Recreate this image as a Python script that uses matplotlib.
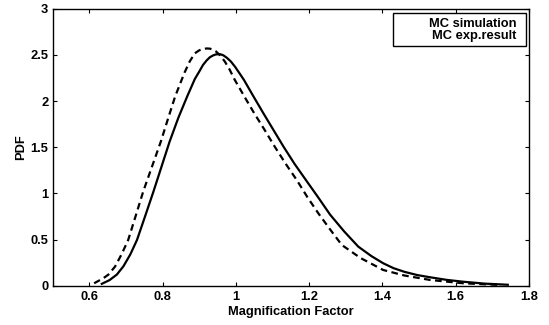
import matplotlib
matplotlib.use("Agg")
import matplotlib.pyplot as plt
from matplotlib.patches import Rectangle

plt.rcParams["font.family"] = ["Liberation Sans", "DejaVu Sans"]
plt.rcParams["font.weight"] = "bold"
plt.rcParams["font.size"] = 9.3

# curves
sim_x = [0.634, 0.655, 0.675, 0.693, 0.712, 0.730, 0.752, 0.775, 0.797, 0.819,
         0.843, 0.867, 0.888, 0.900, 0.910, 0.920, 0.929, 0.938, 0.945, 0.952,
         0.958, 0.966, 0.975, 0.986, 0.998, 1.010, 1.022, 1.048, 1.075, 1.102,
         1.130, 1.160, 1.191, 1.224, 1.257, 1.295, 1.334, 1.370, 1.402, 1.430,
         1.460, 1.495, 1.530, 1.575, 1.620, 1.680, 1.742]
sim_y = [0.02, 0.06, 0.12, 0.21, 0.34, 0.495, 0.75, 1.02, 1.29, 1.56,
         1.82, 2.05, 2.24, 2.32, 2.39, 2.44, 2.475, 2.495, 2.505, 2.508,
         2.507, 2.495, 2.47, 2.43, 2.37, 2.30, 2.229, 2.05, 1.868, 1.69,
         1.506, 1.32, 1.145, 0.96, 0.77, 0.59, 0.423, 0.32, 0.243, 0.19,
         0.15, 0.115, 0.091, 0.063, 0.043, 0.022, 0.01]

exp_x = [0.613, 0.638, 0.652, 0.670, 0.688, 0.706, 0.726, 0.747, 0.771, 0.795,
         0.814, 0.834, 0.848, 0.860, 0.874, 0.888, 0.900, 0.910, 0.920, 0.929,
         0.938, 0.945, 0.957, 0.970, 0.983, 0.997, 1.010, 1.023, 1.050, 1.078,
         1.106, 1.136, 1.166, 1.195, 1.225, 1.257, 1.289, 1.340, 1.402, 1.460,
         1.530, 1.620, 1.720]
exp_y = [0.026, 0.08, 0.12, 0.206, 0.34, 0.495, 0.75, 1.02, 1.29, 1.56,
         1.80, 2.048, 2.19, 2.31, 2.43, 2.518, 2.55, 2.565, 2.57, 2.568,
         2.557, 2.54, 2.495, 2.427, 2.34, 2.229, 2.14, 2.05, 1.868, 1.69,
         1.506, 1.32, 1.145, 0.96, 0.784, 0.61, 0.441, 0.30, 0.170, 0.11,
         0.062, 0.026, 0.008]

labels = ["MC simulation", "MC exp.result"]
x_ticks = [0.6, 0.8, 1.0, 1.2, 1.4, 1.6, 1.8]
x_ticklabels = ["0.6", "0.8", "1", "1.2", "1.4", "1.6", "1.8"]
y_ticks = [0, 0.5, 1, 1.5, 2, 2.5, 3]
y_ticklabels = ["0", "0.5", "1", "1.5", "2", "2.5", "3"]

fig = plt.figure(figsize=(5.49, 3.25), dpi=100)
ax = fig.add_axes([0.096, 0.121, 0.8676, 0.852])

ax.plot(sim_x, sim_y, color="black", lw=1.6, solid_joinstyle="round")
ax.plot(exp_x, exp_y, color="black", lw=1.6, linestyle=(0, (3, 2)))

ax.set_xlim(0.5, 1.8)
ax.set_ylim(0, 3)
ax.set_xticks(x_ticks)
ax.set_xticklabels(x_ticklabels)
ax.set_yticks(y_ticks)
ax.set_yticklabels(y_ticklabels)
ax.tick_params(direction="in", length=3, width=0.8, top=True, right=True)
ax.tick_params(axis="x", pad=4)
ax.tick_params(axis="y", pad=3.2)
for s in ax.spines.values():
    s.set_linewidth(1.0)

ax.set_xlabel("Magnification Factor", fontweight="bold", labelpad=2)
ax.set_ylabel("PDF", fontweight="bold", labelpad=2)

# legend box, text only, right aligned like the original
ax.add_patch(Rectangle((0.7145, 0.8664), 0.2792, 0.117, transform=ax.transAxes,
                       facecolor="white", edgecolor="black", lw=1.0, zorder=5))
ax.text(0.974, 0.9466, labels[0], transform=ax.transAxes, ha="right",
        va="center", fontweight="bold", zorder=6)
ax.text(0.974, 0.9015, labels[1], transform=ax.transAxes, ha="right",
        va="center", fontweight="bold", zorder=6)

fig.savefig("out.png", dpi=100)
